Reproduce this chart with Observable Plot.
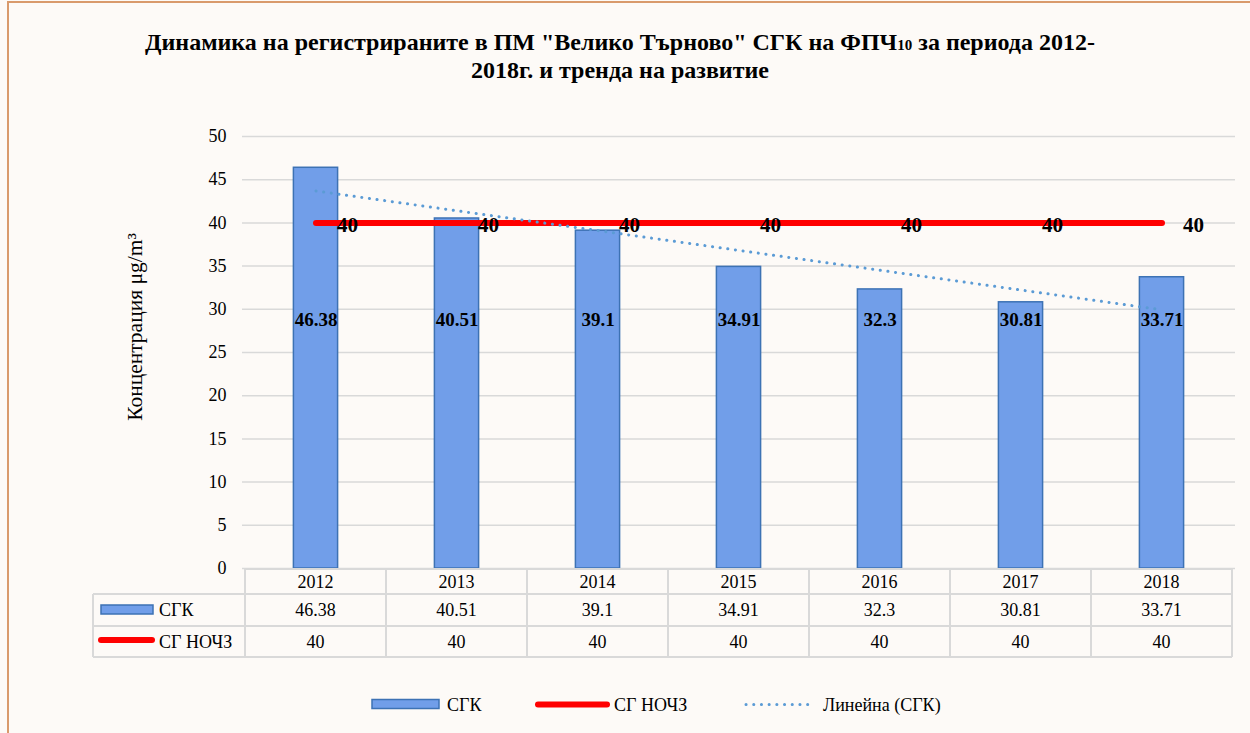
<!DOCTYPE html>
<html>
<head>
<meta charset="utf-8">
<script src="https://cdn.jsdelivr.net/npm/d3@7"></script>
<script src="https://cdn.jsdelivr.net/npm/@observablehq/plot@0.6"></script>
<style>
  body { margin: 0; background: #ffffff; }
  #wrap { position: relative; width: 1250px; height: 733px; overflow: hidden; background: #fdfaf7;
          font-family: "Liberation Serif", "Times New Roman", serif; color: #000; }
  #frame { position: absolute; left: 7px; top: 1px; width: 1300px; height: 800px;
           border-left: 2px solid #d99a6c; border-top: 2px solid #d99a6c; box-sizing: border-box; }
  #title { position: absolute; left: 0; top: 30px; width: 1240px; text-align: center;
           font-weight: bold; font-size: 24px; line-height: 25px; }
  #title .sub { font-size: 15px; }
  #ylabel { position: absolute; left: 135px; top: 327px; white-space: nowrap; font-size: 21.5px;
            transform: translate(-50%, -50%) rotate(-90deg); }
  #chart { position: absolute; left: 0; top: 0; }
  .leg { position: absolute; font-size: 18px; line-height: 20px; white-space: nowrap; }
  .legsw { position: absolute; }
</style>
</head>
<body>
<div id="wrap">
  <div id="frame"></div>
  <div id="chart"></div>
  <div id="title"></div>
  <div id="ylabel"></div>
  <div id="legend"></div>
</div>
<script>
// ---- data ----
const years = ["2012", "2013", "2014", "2015", "2016", "2017", "2018"];
const sgkValues = [46.38, 40.51, 39.1, 34.91, 32.3, 30.81, 33.71];
const normValues = [40, 40, 40, 40, 40, 40, 40];
const yTicks = [0, 5, 10, 15, 20, 25, 30, 35, 40, 45, 50];
const seriesNames = ["СГК", "СГ НОЧЗ", "Линейна (СГК)"];
const titleLine1 = ["Динамика на регистрираните в ПМ \"Велико Търново\" СГК на ФПЧ", "10", " за периода 2012-"];
const titleLine2 = "2018г. и тренда на развитие";
const yLabelText = "Концентрация μg/m³";
const barLabelLevel = 28.8;

// linear trend (least squares of СГК, as the spreadsheet's "Линейна" trendline)
const n = sgkValues.length;
const mx = d3.mean(d3.range(n));
const my = d3.mean(sgkValues);
const slope = d3.sum(d3.range(n), i => (i - mx) * (sgkValues[i] - my)) / d3.sum(d3.range(n), i => (i - mx) ** 2);
const intercept = my - slope * mx;

const rows = years.map((y, i) => ({
  year: y, sgk: sgkValues[i], norm: normValues[i], trend: intercept + slope * i
}));

const colors = { bar: "#719ee9", barStroke: "#3d72b4", norm: "#ff0000", trend: "#5b9bd5", grid: "#d9d9d9" };

// ---- title / y label ----
document.getElementById("title").innerHTML =
  titleLine1[0] + '<span class="sub">' + titleLine1[1] + '</span>' + titleLine1[2] + "<br>" + titleLine2;
document.getElementById("ylabel").textContent = yLabelText;

// ---- chart ----
const chart = Plot.plot({
  width: 1250,
  height: 733,
  marginTop: 136,
  marginBottom: 165,
  marginLeft: 242,
  marginRight: 15,
  style: { background: "transparent", fontFamily: "Liberation Serif, Times New Roman, serif", fontSize: "18px", color: "#000", overflow: "visible" },
  x: { type: "band", domain: years, padding: 0, axis: null },
  y: { domain: [0, 50], axis: null },
  marks: [
    Plot.gridY(yTicks, { stroke: colors.grid, strokeOpacity: 1, strokeWidth: 1.5 }),
    Plot.axisY(yTicks, { tickSize: 0, tickPadding: 16, fontSize: 18, label: null, tickFormat: d => String(d) }),
    Plot.barY(rows, { x: "year", y: "sgk", fill: colors.bar, stroke: colors.barStroke, strokeWidth: 1.5, insetLeft: 48.4, insetRight: 48.4 }),
    Plot.lineY(rows, { x: "year", y: "norm", stroke: colors.norm, strokeWidth: 6, strokeLinecap: "round" }),
    Plot.lineY(rows, { x: "year", y: "trend", stroke: colors.trend, strokeWidth: 3, strokeDasharray: "0.1 7.6", strokeLinecap: "round" }),
    Plot.text(rows, { x: "year", y: () => barLabelLevel, text: d => String(d.sgk), fontWeight: "bold", fontSize: 19 }),
    Plot.text(rows, { x: "year", y: "norm", text: d => String(d.norm), textAnchor: "start", dx: 21, dy: 2, fontWeight: "bold", fontSize: 21 })
  ]
});
document.getElementById("chart").appendChild(chart);

// ---- data table under the plot, aligned to the x scale ----
const xs = chart.scale("x");
const bw = xs.bandwidth;
const svg = d3.select(chart);
const tg = svg.append("g").attr("font-family", "Liberation Serif, Times New Roman, serif").attr("font-size", 18);
const left = xs.apply(years[0]);
const right = xs.apply(years[years.length - 1]) + bw;
const tTop = 569, r1 = 594, r2 = 626, tBot = 657, labLeft = 93;
const line = (x1, y1, x2, y2) => tg.append("line").attr("x1", x1).attr("y1", y1).attr("x2", x2).attr("y2", y2)
  .attr("stroke", colors.grid).attr("stroke-width", 2);
line(left, tTop, right, tTop);
line(labLeft, r1, right, r1);
line(labLeft, r2, right, r2);
line(labLeft, tBot, right, tBot);
line(labLeft, r1, labLeft, tBot);
years.forEach((y, i) => {
  const x0 = xs.apply(y);
  line(x0, tTop, x0, tBot);
  const cx = x0 + bw / 2;
  tg.append("text").attr("x", cx).attr("y", (tTop + r1) / 2).attr("dy", "0.35em").attr("text-anchor", "middle").text(y);
  tg.append("text").attr("x", cx).attr("y", (r1 + r2) / 2).attr("dy", "0.35em").attr("text-anchor", "middle").text(String(sgkValues[i]));
  tg.append("text").attr("x", cx).attr("y", (r2 + tBot) / 2).attr("dy", "0.35em").attr("text-anchor", "middle").text(String(normValues[i]));
});
line(right, tTop, right, tBot);
// row header keys
tg.append("rect").attr("x", 101).attr("y", 605).attr("width", 52).attr("height", 9)
  .attr("fill", colors.bar).attr("stroke", colors.barStroke).attr("stroke-width", 1.5);
tg.append("text").attr("x", 159).attr("y", (r1 + r2) / 2).attr("dy", "0.35em").attr("text-anchor", "start").text(seriesNames[0]);
tg.append("line").attr("x1", 101).attr("x2", 152).attr("y1", 640).attr("y2", 640)
  .attr("stroke", colors.norm).attr("stroke-width", 6).attr("stroke-linecap", "round");
tg.append("text").attr("x", 159).attr("y", (r2 + tBot) / 2).attr("dy", "0.35em").attr("text-anchor", "start").text(seriesNames[1]);

// ---- legend ----
const legend = document.getElementById("legend");
legend.innerHTML = `
  <svg class="legsw" style="left:371px;top:698px" width="70" height="13"><rect x="1" y="1.5" width="67" height="9" fill="${colors.bar}" stroke="${colors.barStroke}" stroke-width="1.5"/></svg>
  <div class="leg" style="left:447px;top:695px">${seriesNames[0]}</div>
  <svg class="legsw" style="left:534px;top:698px" width="78" height="13"><line x1="4" x2="73" y1="6.5" y2="6.5" stroke="${colors.norm}" stroke-width="6" stroke-linecap="round"/></svg>
  <div class="leg" style="left:614px;top:695px">${seriesNames[1]}</div>
  <svg class="legsw" style="left:742px;top:698px" width="72" height="13"><line x1="4" x2="68" y1="6.5" y2="6.5" stroke="${colors.trend}" stroke-width="3" stroke-dasharray="0.1 7.6" stroke-linecap="round"/></svg>
  <div class="leg" style="left:823px;top:695px">${seriesNames[2]}</div>`;
</script>
</body>
</html>
